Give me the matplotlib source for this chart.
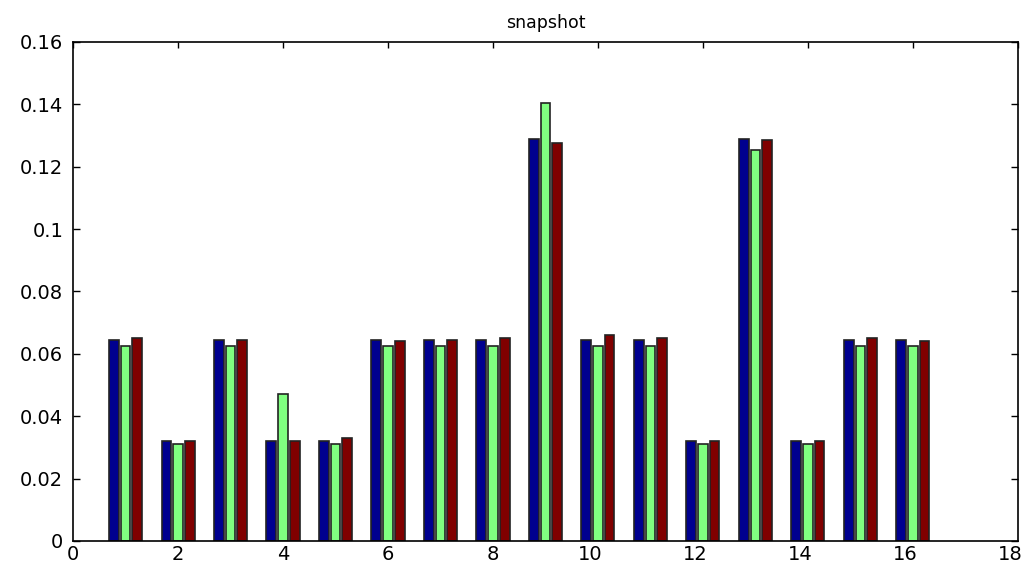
import numpy as np
import matplotlib
matplotlib.use("Agg")
import matplotlib.pyplot as plt
import matplotlib.transforms as mtransforms

plt.rcParams['font.family'] = ['DejaVu Sans']

categories = list(range(1, 17))
series_a = [0.0645, 0.032, 0.0645, 0.032, 0.032, 0.0645, 0.0645, 0.0645,
            0.129, 0.0645, 0.0645, 0.032, 0.129, 0.032, 0.0645, 0.0645]
series_b = [0.0625, 0.031, 0.0625, 0.047, 0.031, 0.0625, 0.0625, 0.0625,
            0.1405, 0.0625, 0.0625, 0.031, 0.1253, 0.031, 0.0625, 0.0625]
series_c = [0.065, 0.032, 0.0645, 0.032, 0.033, 0.064, 0.0645, 0.065,
            0.1277, 0.066, 0.065, 0.032, 0.1286, 0.032, 0.065, 0.064]
colors = ['#00008F', '#80FF80', '#800000']

fig = plt.figure(figsize=(10.27, 5.67), dpi=100)
ax = fig.add_axes([0.0711, 0.0459, 0.9201, 0.8801])

x = np.array(categories, dtype=float)
spacing = 0.222
width = 0.185
for i, (vals, c) in enumerate(zip([series_a, series_b, series_c], colors)):
    ax.bar(x + (i - 1) * spacing, vals, width=width, color=c,
           edgecolor='#222222', linewidth=1.2)

ax.set_xlim(0, 18)
ax.set_ylim(0, 0.16)
ax.set_xticks(np.arange(0, 19, 2))
ax.set_yticks(np.arange(0, 0.1601, 0.02))
ax.set_yticklabels(['0', '0.02', '0.04', '0.06', '0.08', '0.1', '0.12', '0.14', '0.16'])
ax.tick_params(axis='y', direction='in', left=True, right=True, length=5,
               width=1, labelsize=14, pad=7)
ax.tick_params(axis='x', direction='in', top=True, bottom=False, length=4,
               width=1, labelsize=14, pad=3)
for s in ax.spines.values():
    s.set_linewidth(1.2)
ax.set_title('snapshot', fontsize=12.5, pad=10)

fig.canvas.draw()
for lab in ax.get_xticklabels():
    if len(lab.get_text()) > 1:
        lab.set_transform(lab.get_transform() +
                          mtransforms.ScaledTranslation(-8 / 100, 0, fig.dpi_scale_trans))

fig.savefig('out.png', dpi=100)
